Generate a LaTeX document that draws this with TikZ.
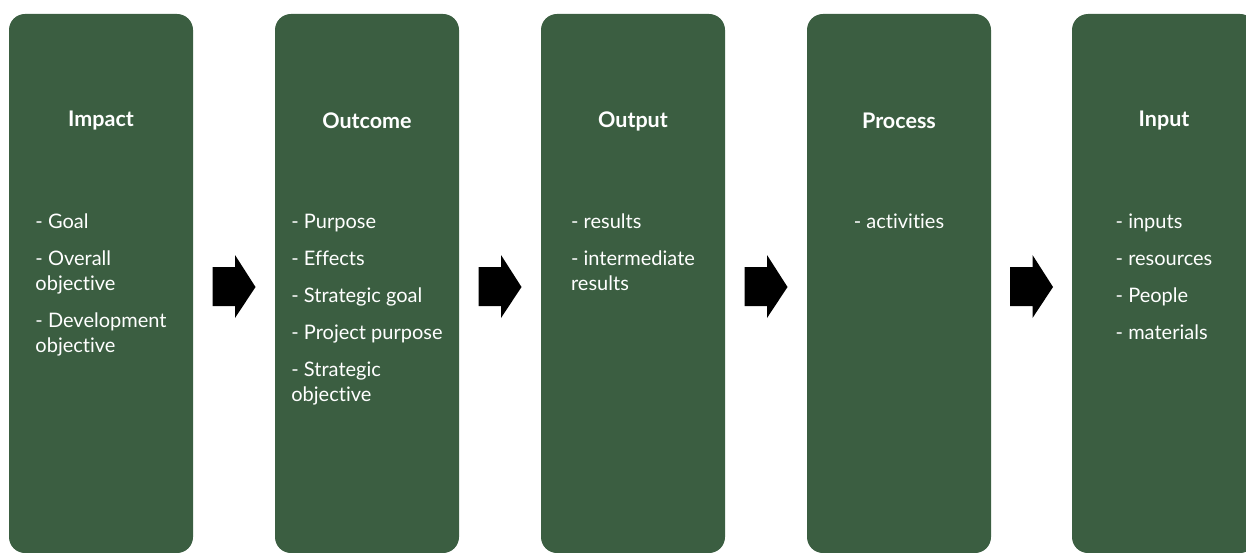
\documentclass[tikz,border=0pt]{standalone}
\usepackage{fontspec}
\setmainfont{Lato}[Ligatures={NoCommon,TeX}]
\usetikzlibrary{calc}
\definecolor{stagegreen}{RGB}{59,94,65}
\begin{document}
\begin{tikzpicture}[x=1pt,y=-1pt,
  stagebox/.style={fill=stagegreen,rounded corners=16pt,minimum width=184pt,
    minimum height=539pt,inner sep=0pt,outer sep=0pt},
  title/.style={text=white,font=\fontsize{21.5}{25}\selectfont\bfseries,inner sep=0pt},
  items/.style={text=white,font=\fontsize{20}{25}\selectfont,align=left,
    anchor=north,inner sep=0pt},
  blockarrow/.style={fill=black}]
\useasboundingbox (0,0) rectangle (1246,553);
% the five stages
\node[stagebox] (b1) at (101,283.5) {};
\node[stagebox] (b2) at (367,283.5) {};
\node[stagebox] (b3) at (633,283.5) {};
\node[stagebox] (b4) at (899,283.5) {};
\node[stagebox] (b5) at (1164,283.5) {};
% headings
\node[title] (t1) at (b1.center |- 0,121) {Impact};
\node[title] (t2) at (b2.center |- 0,121) {Outcome};
\node[title] (t3) at (b3.center |- 0,121) {Output};
\node[title] (t4) at (b4.center |- 0,121) {Process};
\node[title] (t5) at (b5.center |- 0,121) {Input};
% item lists
\node[items] (l1) at (b1.center |- 0,214) {- Goal\\[12pt]- Overall\\objective\\[12pt]- Development\\objective};
\node[items] (l2) at (b2.center |- 0,214) {- Purpose\\[12pt]- Effects\\[12pt]- Strategic goal\\[12pt]- Project purpose\\[12pt]- Strategic\\objective};
\node[items] (l3) at (b3.center |- 0,214) {- results\\[12pt]- intermediate\\results};
\node[items] (l4) at (b4.center |- 0,214) {- activities};
\node[items] (l5) at (b5.center |- 0,214) {- inputs\\[12pt]- resources\\[12pt]- People\\[12pt]- materials};
% block arrows between neighbouring stages
\foreach \a/\b in {b1/b2,b2/b3,b3/b4,b4/b5}{
  \coordinate (m) at ($(\a.east)!0.5!(\b.west)$);
  \fill[blockarrow] (m |- 0,267) ++(-21.5,0) -- ++(22.5,0) -- ++(0,-12)
    -- ++(20.5,32) -- ++(-20.5,31) -- ++(0,-12) -- ++(-22.5,0) -- cycle;
}
\end{tikzpicture}
\end{document}
